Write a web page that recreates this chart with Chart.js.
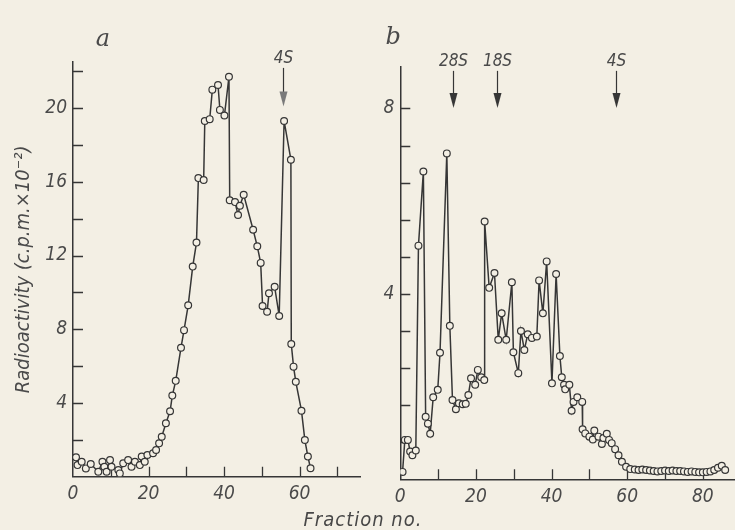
<!DOCTYPE html>
<html>
<head>
<meta charset="utf-8">
<script src="https://cdn.jsdelivr.net/npm/chart.js@4.4.1/dist/chart.umd.min.js"></script>
<style>
  html, body { margin: 0; padding: 0; background: #f3efe4; }
  #wrap { position: relative; width: 735px; height: 530px; overflow: hidden; }
  #chartA { position: absolute; left: 0; top: 0; }
  #chartB { position: absolute; left: 370px; top: 0; }
  #xlabel {
    position: absolute; left: 0; width: 726px; top: 507px; text-align: center;
    font: italic 20px 'DejaVu Sans Condensed', 'DejaVu Sans', sans-serif;
    color: #474747; letter-spacing: 1px;
  }
</style>
</head>
<body>
<div id="wrap">
  <canvas id="chartA" width="370" height="530"></canvas>
  <canvas id="chartB" width="365" height="530"></canvas>
  <div id="xlabel">Fraction no.</div>
</div>
<script>
// panel a: fraction number and counts (c.p.m. x 10^-2)
var fracA = [0.8, 1.2, 2.3, 3.4, 4.7, 6.7, 7.8, 8.3, 8.9, 9.8, 10.2, 12.0, 12.4, 13.3, 14.6, 15.5,
  16.4, 17.7, 18.2, 19.0, 19.7, 21.2, 22.0, 22.8, 23.5, 24.6, 25.7, 26.3, 27.2, 28.6, 29.4, 30.5,
  31.7, 32.7, 33.2, 34.6, 34.9, 36.2, 36.9, 38.4, 38.9, 40.1, 41.3, 41.5, 42.9, 43.7, 44.2, 45.2,
  47.7, 48.8, 49.7, 50.2, 51.4, 51.9, 53.4, 54.6, 55.9, 57.7, 57.8, 58.4, 59.0, 60.5, 61.4, 62.2, 62.9];
var countA = [1.05, 0.63, 0.81, 0.45, 0.69, 0.27, 0.81, 0.54, 0.27, 0.9, 0.54, 0.36, 0.18, 0.73, 0.9, 0.54,
  0.81, 0.63, 1.09, 0.81, 1.18, 1.27, 1.45, 1.81, 2.17, 2.9, 3.55, 4.4, 5.2, 7.0, 7.95, 9.3,
  11.4, 12.7, 16.2, 16.1, 19.3, 19.4, 21.0, 21.25, 19.9, 19.6, 21.7, 15.0, 14.9, 14.2, 14.7, 15.3,
  13.4, 12.5, 11.6, 9.26, 8.95, 9.95, 10.3, 8.72, 19.3, 17.2, 7.2, 5.97, 5.15, 3.58, 1.99, 1.09, 0.46];

// panel b
var fracB = [0.6, 1.2, 2.0, 2.6, 3.2, 4.1, 4.8, 6.1, 6.7, 7.3, 7.9, 8.7, 9.9, 10.5, 12.3, 13.1,
  13.8, 14.7, 15.5, 16.5, 17.3, 18.0, 18.7, 19.8, 20.5, 21.4, 22.2, 22.3, 23.5, 24.9, 25.9, 26.8,
  28.0, 29.5, 29.9, 31.2, 31.9, 32.8, 33.7, 34.8, 36.1, 36.7, 37.7, 38.7, 40.1, 41.2, 42.2, 42.7,
  43.3, 43.6, 44.7, 45.3, 45.8, 46.8, 48.1, 48.2, 48.9, 50.0, 50.9, 51.3, 52.4, 53.3, 53.7, 54.6,
  55.2, 55.9, 56.8, 57.7, 58.6, 59.7, 60.8, 62, 63, 64, 65, 66, 67, 68, 69, 70, 71, 72, 73, 74,
  75, 76, 77, 78, 79, 80, 81, 82, 83, 84, 85, 85.9];
var countB = [0.16, 0.85, 0.85, 0.6, 0.52, 0.62, 5.04, 6.64, 1.35, 1.2, 0.98, 1.77, 1.93, 2.73, 7.03, 3.31,
  1.71, 1.51, 1.64, 1.62, 1.63, 1.82, 2.18, 2.04, 2.36, 2.2, 2.14, 5.56, 4.13, 4.45, 3.01, 3.58,
  3.01, 4.25, 2.74, 2.29, 3.2, 2.79, 3.13, 3.05, 3.08, 4.29, 3.58, 4.7, 2.07, 4.43, 2.66, 2.2,
  2.04, 1.94, 2.04, 1.48, 1.67, 1.77, 1.67, 1.08, 0.99, 0.92, 0.86, 1.05, 0.92, 0.76, 0.89, 0.98,
  0.85, 0.78, 0.65, 0.52, 0.38, 0.27, 0.22, 0.21, 0.2, 0.21, 0.2, 0.19, 0.18, 0.17, 0.18, 0.19,
  0.18, 0.19, 0.18, 0.18, 0.17, 0.16, 0.17, 0.16, 0.15, 0.15, 0.16, 0.17, 0.2, 0.25, 0.29, 0.2];

// axis ticks and labelled values
var xTicksA = [0, 10, 20, 30, 40, 50, 60, 70];
var xLabelsA = [0, 20, 40, 60];
var yTicksA = [2, 4, 6, 8, 10, 12, 14, 16, 18, 20, 22];
var yLabelsA = [4, 8, 12, 16, 20];
var xTicksB = [0, 10, 20, 30, 40, 50, 60, 70, 80];
var xLabelsB = [0, 20, 40, 60, 80];
var yTicksB = [0.8, 1.6, 2.4, 3.2, 4, 4.8, 5.6, 6.4, 7.2, 8];
var yLabelsB = [4, 8];

// sedimentation markers (fraction no.)
var markA = [55.6];
var markNamesA = ["4S"];
var markB = [14.0, 25.5, 57.1];
var markNamesB = ["28S", "18S", "4S"];

var ink = "#363636";
var textInk = "#4a4a4a";
var paper = "#f3efe4";
var family = "'DejaVu Sans Condensed', 'DejaVu Sans', sans-serif";
var tickFont = { family: family, size: 19, style: "italic" };

function toPoints(xs, ys) {
  return xs.map(function (x, i) { return { x: x, y: ys[i] }; });
}

// tick marks point inwards, drawn under the data
var innerTicks = {
  id: "innerTicks",
  beforeDatasetsDraw: function (chart) {
    var ctx = chart.ctx, a = chart.chartArea, x = chart.scales.x, y = chart.scales.y;
    ctx.save();
    ctx.strokeStyle = ink;
    ctx.lineWidth = 1.3;
    ctx.beginPath();
    x.ticks.forEach(function (t) {
      if (t.value <= x.min) return;
      var px = Math.round(x.getPixelForValue(t.value)) + 0.5;
      ctx.moveTo(px, a.bottom);
      ctx.lineTo(px, a.bottom - 10);
    });
    y.ticks.forEach(function (t) {
      if (t.value <= y.min) return;
      var py = Math.round(y.getPixelForValue(t.value)) + 0.5;
      ctx.moveTo(a.left, py);
      ctx.lineTo(a.left + 10, py);
    });
    ctx.stroke();
    ctx.restore();
  }
};

var arrows = {
  id: "arrows",
  afterDatasetsDraw: function (chart, args, o) {
    var ctx = chart.ctx, x = chart.scales.x, y = chart.scales.y;
    ctx.save();
    o.at.forEach(function (f, i) {
      var px = Math.round(x.getPixelForValue(f)) + 0.5;
      var top = y.getPixelForValue(o.from);
      var tip = y.getPixelForValue(o.to);
      ctx.strokeStyle = ink;
      ctx.fillStyle = ink;
      ctx.lineWidth = 1.2;
      ctx.beginPath();
      ctx.moveTo(px, top);
      ctx.lineTo(px, tip - 6);
      ctx.stroke();
      ctx.beginPath();
      ctx.moveTo(px - 4, tip - 15);
      ctx.lineTo(px + 4, tip - 15);
      ctx.lineTo(px, tip);
      ctx.closePath();
      if (o.open) {
        ctx.fillStyle = "#7a7a7a";
      }
      ctx.fill();
      ctx.fillStyle = textInk;
      ctx.font = "italic 17px " + family;
      ctx.textAlign = "center";
      ctx.textBaseline = "alphabetic";
      ctx.fillText(o.labels[i], px, top - 5);
    });
    ctx.restore();
  }
};

var panelLetter = {
  id: "panelLetter",
  afterDraw: function (chart, args, o) {
    var ctx = chart.ctx;
    ctx.save();
    ctx.fillStyle = textInk;
    ctx.font = "italic 24px 'DejaVu Serif', serif";
    ctx.textAlign = "center";
    ctx.textBaseline = "middle";
    ctx.fillText(o.text, chart.chartArea.left + o.dx, o.y);
    ctx.restore();
  }
};

function dataset(pts) {
  return {
    data: pts,
    borderColor: ink,
    borderWidth: 1.5,
    pointRadius: 3.4,
    pointBorderWidth: 1.2,
    pointBorderColor: ink,
    pointBackgroundColor: paper,
    tension: 0
  };
}

function axis(min, max, ticks, labels, extra) {
  var s = {
    type: "linear",
    min: min,
    max: max,
    afterBuildTicks: function (sc) {
      sc.ticks = ticks.map(function (v) { return { value: v }; });
    },
    ticks: {
      autoSkip: false,
      maxRotation: 0,
      font: tickFont,
      color: textInk,
      padding: 6,
      callback: function (v) { return labels.indexOf(v) >= 0 ? String(v) : ""; }
    },
    grid: { drawOnChartArea: false, drawTicks: false },
    border: { color: ink, width: 1.5 }
  };
  return Object.assign(s, extra);
}

new Chart(document.getElementById("chartA"), {
  type: "line",
  data: { datasets: [dataset(toPoints(fracA, countA))] },
  options: {
    responsive: false,
    animation: false,
    layout: { autoPadding: false, padding: { top: 62, right: 10, left: 0, bottom: 0 } },
    plugins: {
      legend: { display: false },
      tooltip: { enabled: false },
      arrows: { at: markA, labels: markNamesA, from: 22.18, to: 20.08, open: true },
      panelLetter: { text: "a", dx: 30, y: 40 }
    },
    scales: {
      x: axis(0, 76, xTicksA, xLabelsA, {
        afterFit: function (s) { s.height = 53.3; }
      }),
      y: axis(0, 22.5, yTicksA, yLabelsA, {
        afterFit: function (s) { s.width = 73; },
        title: {
          display: true,
          text: "Radioactivity (c.p.m.×10⁻²)",
          font: { family: family, size: 20, style: "italic" },
          color: textInk,
          padding: { top: 12, bottom: 0 }
        }
      })
    }
  },
  plugins: [innerTicks, arrows, panelLetter]
});

new Chart(document.getElementById("chartB"), {
  type: "line",
  data: { datasets: [dataset(toPoints(fracB, countB))] },
  options: {
    responsive: false,
    animation: false,
    layout: { autoPadding: false, padding: { top: 66.7, right: 0, left: 0, bottom: 0 } },
    plugins: {
      legend: { display: false },
      tooltip: { enabled: false },
      arrows: { at: markB, labels: markNamesB, from: 8.81, to: 8.01, open: false },
      panelLetter: { text: "b", dx: -7, y: 38 }
    },
    scales: {
      x: axis(0, 88.5, xTicksB, xLabelsB, {
        afterFit: function (s) { s.height = 50.7; }
      }),
      y: axis(0, 8.9, yTicksB, yLabelsB, {
        afterFit: function (s) { s.width = 30.3; }
      })
    }
  },
  plugins: [innerTicks, arrows, panelLetter]
});
</script>
</body>
</html>
